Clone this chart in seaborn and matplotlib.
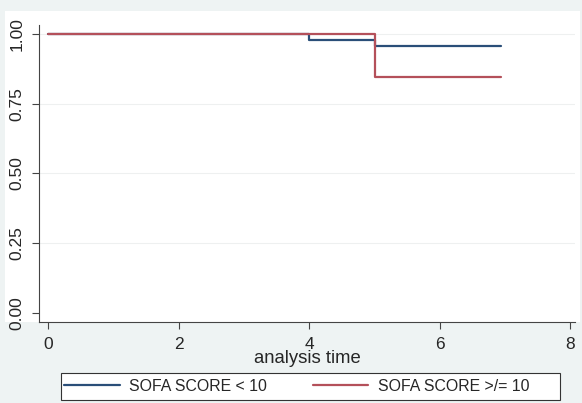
import pandas as pd
import matplotlib.pyplot as plt
import seaborn as sns
from matplotlib.patches import Rectangle

sns.set_style("white")
plt.rcParams['font.family'] = ['Liberation Sans', 'DejaVu Sans']

# Kaplan-Meier step values
time_low = [0, 4, 5, 6.93]
surv_low = [1.0, 0.977, 0.955, 0.955]
time_high = [0, 5, 5, 6.93]
surv_high = [1.0, 1.0, 0.846, 0.846]
groups = ['SOFA SCORE < 10', 'SOFA SCORE >/= 10']
colors = ['#2a4e78', '#b4505a']

df = pd.concat([
    pd.DataFrame({'time': time_low, 'surv': surv_low, 'group': groups[0]}),
    pd.DataFrame({'time': time_high, 'surv': surv_high, 'group': groups[1]}),
])

W, H = 582, 403
fig = plt.figure(figsize=(W / 100, H / 100), dpi=100)
fig.patch.set_facecolor('#eef3f3')
# white graph area behind the axes
fig.patches.append(Rectangle((5/W, 81/H), 575/W, 311/H,
                             transform=fig.transFigure, facecolor='white',
                             edgecolor='none', zorder=-10))
ax = fig.add_axes([39/W, 81/H, 536/W, 297/H])
ax.set_facecolor('white')

for y in [0.25, 0.5, 0.75, 1.0]:
    ax.axhline(y, color='#eef0f0', lw=0.8, zorder=0)

sns.lineplot(data=df, x='time', y='surv', hue='group', palette=colors,
             drawstyle='steps-post', estimator=None, sort=False,
             linewidth=1.6, ax=ax, legend=False)

ax.set_xlim(-0.14, 8.07)
ax.set_ylim(-0.033, 1.032)
ax.set_xticks([0, 2, 4, 6, 8])
ax.set_yticks([0, 0.25, 0.5, 0.75, 1.0])
ax.set_yticklabels(['0.00', '0.25', '0.50', '0.75', '1.00'], rotation=90, va='center')
ax.tick_params(axis='both', direction='out', length=5, width=0.8, color='#444444',
               labelsize=12.5, pad=5.5, left=True, bottom=True)
for s in ['top', 'right']:
    ax.spines[s].set_visible(False)
for s in ['left', 'bottom']:
    ax.spines[s].set_color('#444444')
    ax.spines[s].set_linewidth(0.8)
ax.set_xlabel('analysis time', fontsize=13.3, labelpad=-1)
ax.set_ylabel('')

# legend box drawn separately (Stata leaves extra room on the right)
fig.patches.append(Rectangle((61/W, 3/H), 499/W, 27/H, transform=fig.transFigure,
                             facecolor='white', edgecolor='#333333', lw=0.8, zorder=1))
handles = [plt.Line2D([], [], color=c, lw=1.6) for c in colors]
leg = fig.legend(handles, groups, loc='center left', bbox_to_anchor=(61/W, 16.5/H),
                 ncol=2, fontsize=11.4, handlelength=3.5, columnspacing=2.9,
                 frameon=False, borderpad=0.2, borderaxespad=0, handletextpad=0.6)
leg.set_zorder(2)

plt.savefig('out.png', dpi=100, facecolor=fig.get_facecolor())
